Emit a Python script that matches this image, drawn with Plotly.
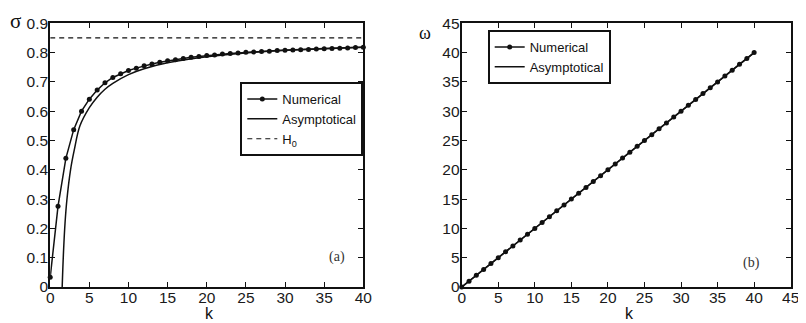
import plotly.graph_objects as go

# ---- data (panel a) ----
k_num = list(range(0, 41))
sigma_num = [0.033, 0.276, 0.439, 0.537, 0.600, 0.641, 0.672, 0.697, 0.715, 0.728,
             0.739, 0.747, 0.755, 0.761, 0.767, 0.772, 0.776, 0.780, 0.784, 0.787,
             0.790, 0.792, 0.795, 0.797, 0.799, 0.801, 0.802, 0.804, 0.805, 0.807,
             0.808, 0.809, 0.810, 0.811, 0.812, 0.813, 0.814, 0.815, 0.816, 0.817,
             0.818]
k_asym = [1.53, 1.7, 1.9, 2.13, 2.6, 3.07, 3.8, 5, 6, 7, 8, 10, 12, 15, 20, 25, 30, 35, 40]
sigma_asym = [0.0, 0.12, 0.22, 0.297, 0.40, 0.467, 0.55, 0.612, 0.648, 0.675, 0.695,
              0.725, 0.745, 0.765, 0.786, 0.799, 0.808, 0.814, 0.818]
H0 = 0.85
k_h0 = [0, 40]

# ---- data (panel b) ----
k_b = list(range(0, 41))
omega_num = list(range(0, 41))
k_b_asym = [0, 40]
omega_asym = [0, 40]

# page has an 8px body margin; figure is sized to fill the rest of the window
OFF = 8
W, H = 806 - OFF, 323 - OFF
fig = go.Figure()

black = "#111111"
fig.add_trace(go.Scatter(x=k_num, y=sigma_num, mode="lines+markers", name="Numerical",
                         line=dict(color=black, width=1.5), marker=dict(size=5, color=black),
                         xaxis="x", yaxis="y", legend="legend", cliponaxis=False))
fig.add_trace(go.Scatter(x=k_asym, y=sigma_asym, mode="lines", name="Asymptotical",
                         line=dict(color=black, width=1.5, shape="spline"),
                         xaxis="x", yaxis="y", legend="legend"))
fig.add_trace(go.Scatter(x=k_h0, y=[H0, H0], mode="lines", name="H<sub>0</sub>",
                         line=dict(color=black, width=1.2, dash="5px,4px"),
                         xaxis="x", yaxis="y", legend="legend"))

fig.add_trace(go.Scatter(x=k_b, y=omega_num, mode="lines+markers", name="Numerical",
                         line=dict(color=black, width=1.5), marker=dict(size=5, color=black),
                         xaxis="x2", yaxis="y2", legend="legend2", cliponaxis=False))
fig.add_trace(go.Scatter(x=k_b_asym, y=omega_asym, mode="lines", name="Asymptotical",
                         line=dict(color=black, width=1.5),
                         xaxis="x2", yaxis="y2", legend="legend2"))

def px(x):
    return (x - OFF) / W

def py(y):
    return (H - (y - OFF)) / H

tickfont = dict(family="Liberation Sans, Arial, sans-serif", size=15.5, color="#1a1a1a")
axcommon = dict(showline=True, linecolor=black, linewidth=2, mirror="ticks",
                ticks="inside", ticklen=5, tickwidth=1, tickcolor=black,
                showgrid=False, zeroline=False, tickfont=tickfont, automargin=False)

ydom = [py(287), py(23.3)]
fig.update_layout(
    width=W, height=H, autosize=False,
    margin=dict(l=0, r=0, t=0, b=0, autoexpand=False),
    paper_bgcolor="white", plot_bgcolor="white",
    xaxis=dict(domain=[px(50.2), px(363.3)], range=[0, 40], tickvals=list(range(0, 41, 5)),
               anchor="y", ticklabelstandoff=-5, **axcommon),
    yaxis=dict(domain=ydom, range=[0, 0.9], tickvals=[i / 10 for i in range(10)],
               ticktext=["0"] + [f"{i/10:.1f}" for i in range(1, 10)], anchor="x",
               ticklabelstandoff=-3, **axcommon),
    xaxis2=dict(domain=[px(461.7), px(790.7)], range=[0, 45], tickvals=list(range(0, 46, 5)),
                anchor="y2", ticklabelstandoff=-5, **axcommon),
    yaxis2=dict(domain=ydom, range=[0, 45], tickvals=list(range(0, 46, 5)),
                anchor="x2", ticklabelstandoff=-3, **axcommon),
    legend=dict(x=px(363.3), y=py(119), xanchor="right", yanchor="middle",
                bordercolor=black, borderwidth=2, bgcolor="white",
                font=dict(family="Liberation Sans, Arial, sans-serif", size=13, color=black),
                itemwidth=30, tracegroupgap=0),
    legend2=dict(x=px(487.7), y=py(57), xanchor="left", yanchor="middle",
                 bordercolor=black, borderwidth=2, bgcolor="white",
                 font=dict(family="Liberation Sans, Arial, sans-serif", size=13, color=black),
                 itemwidth=30, tracegroupgap=0),
    showlegend=True,
)

ann = [
    dict(text="σ", x=px(15), y=1, yanchor="top", borderpad=0,
         font=dict(family="Liberation Serif, serif", size=21, color=black)),
    dict(text="ω", x=px(425), y=py(33), yanchor="middle",
         font=dict(family="Liberation Serif, serif", size=18, color=black)),
    dict(text="k", x=px(209), y=0, yanchor="bottom", borderpad=0,
         font=dict(family="Liberation Sans, Arial, sans-serif", size=16, color=black)),
    dict(text="k", x=px(629), y=0, yanchor="bottom", borderpad=0,
         font=dict(family="Liberation Sans, Arial, sans-serif", size=16, color=black)),
    dict(text="(a)", x=px(336.7), y=py(257), yanchor="middle",
         font=dict(family="Liberation Serif, serif", size=14, color="#333333")),
    dict(text="(b)", x=px(751.7), y=py(263), yanchor="middle",
         font=dict(family="Liberation Serif, serif", size=14, color="#333333")),
]
for a in ann:
    fig.add_annotation(xref="paper", yref="paper", showarrow=False,
                       xanchor="center", **a)

fig.write_html("out.html")
